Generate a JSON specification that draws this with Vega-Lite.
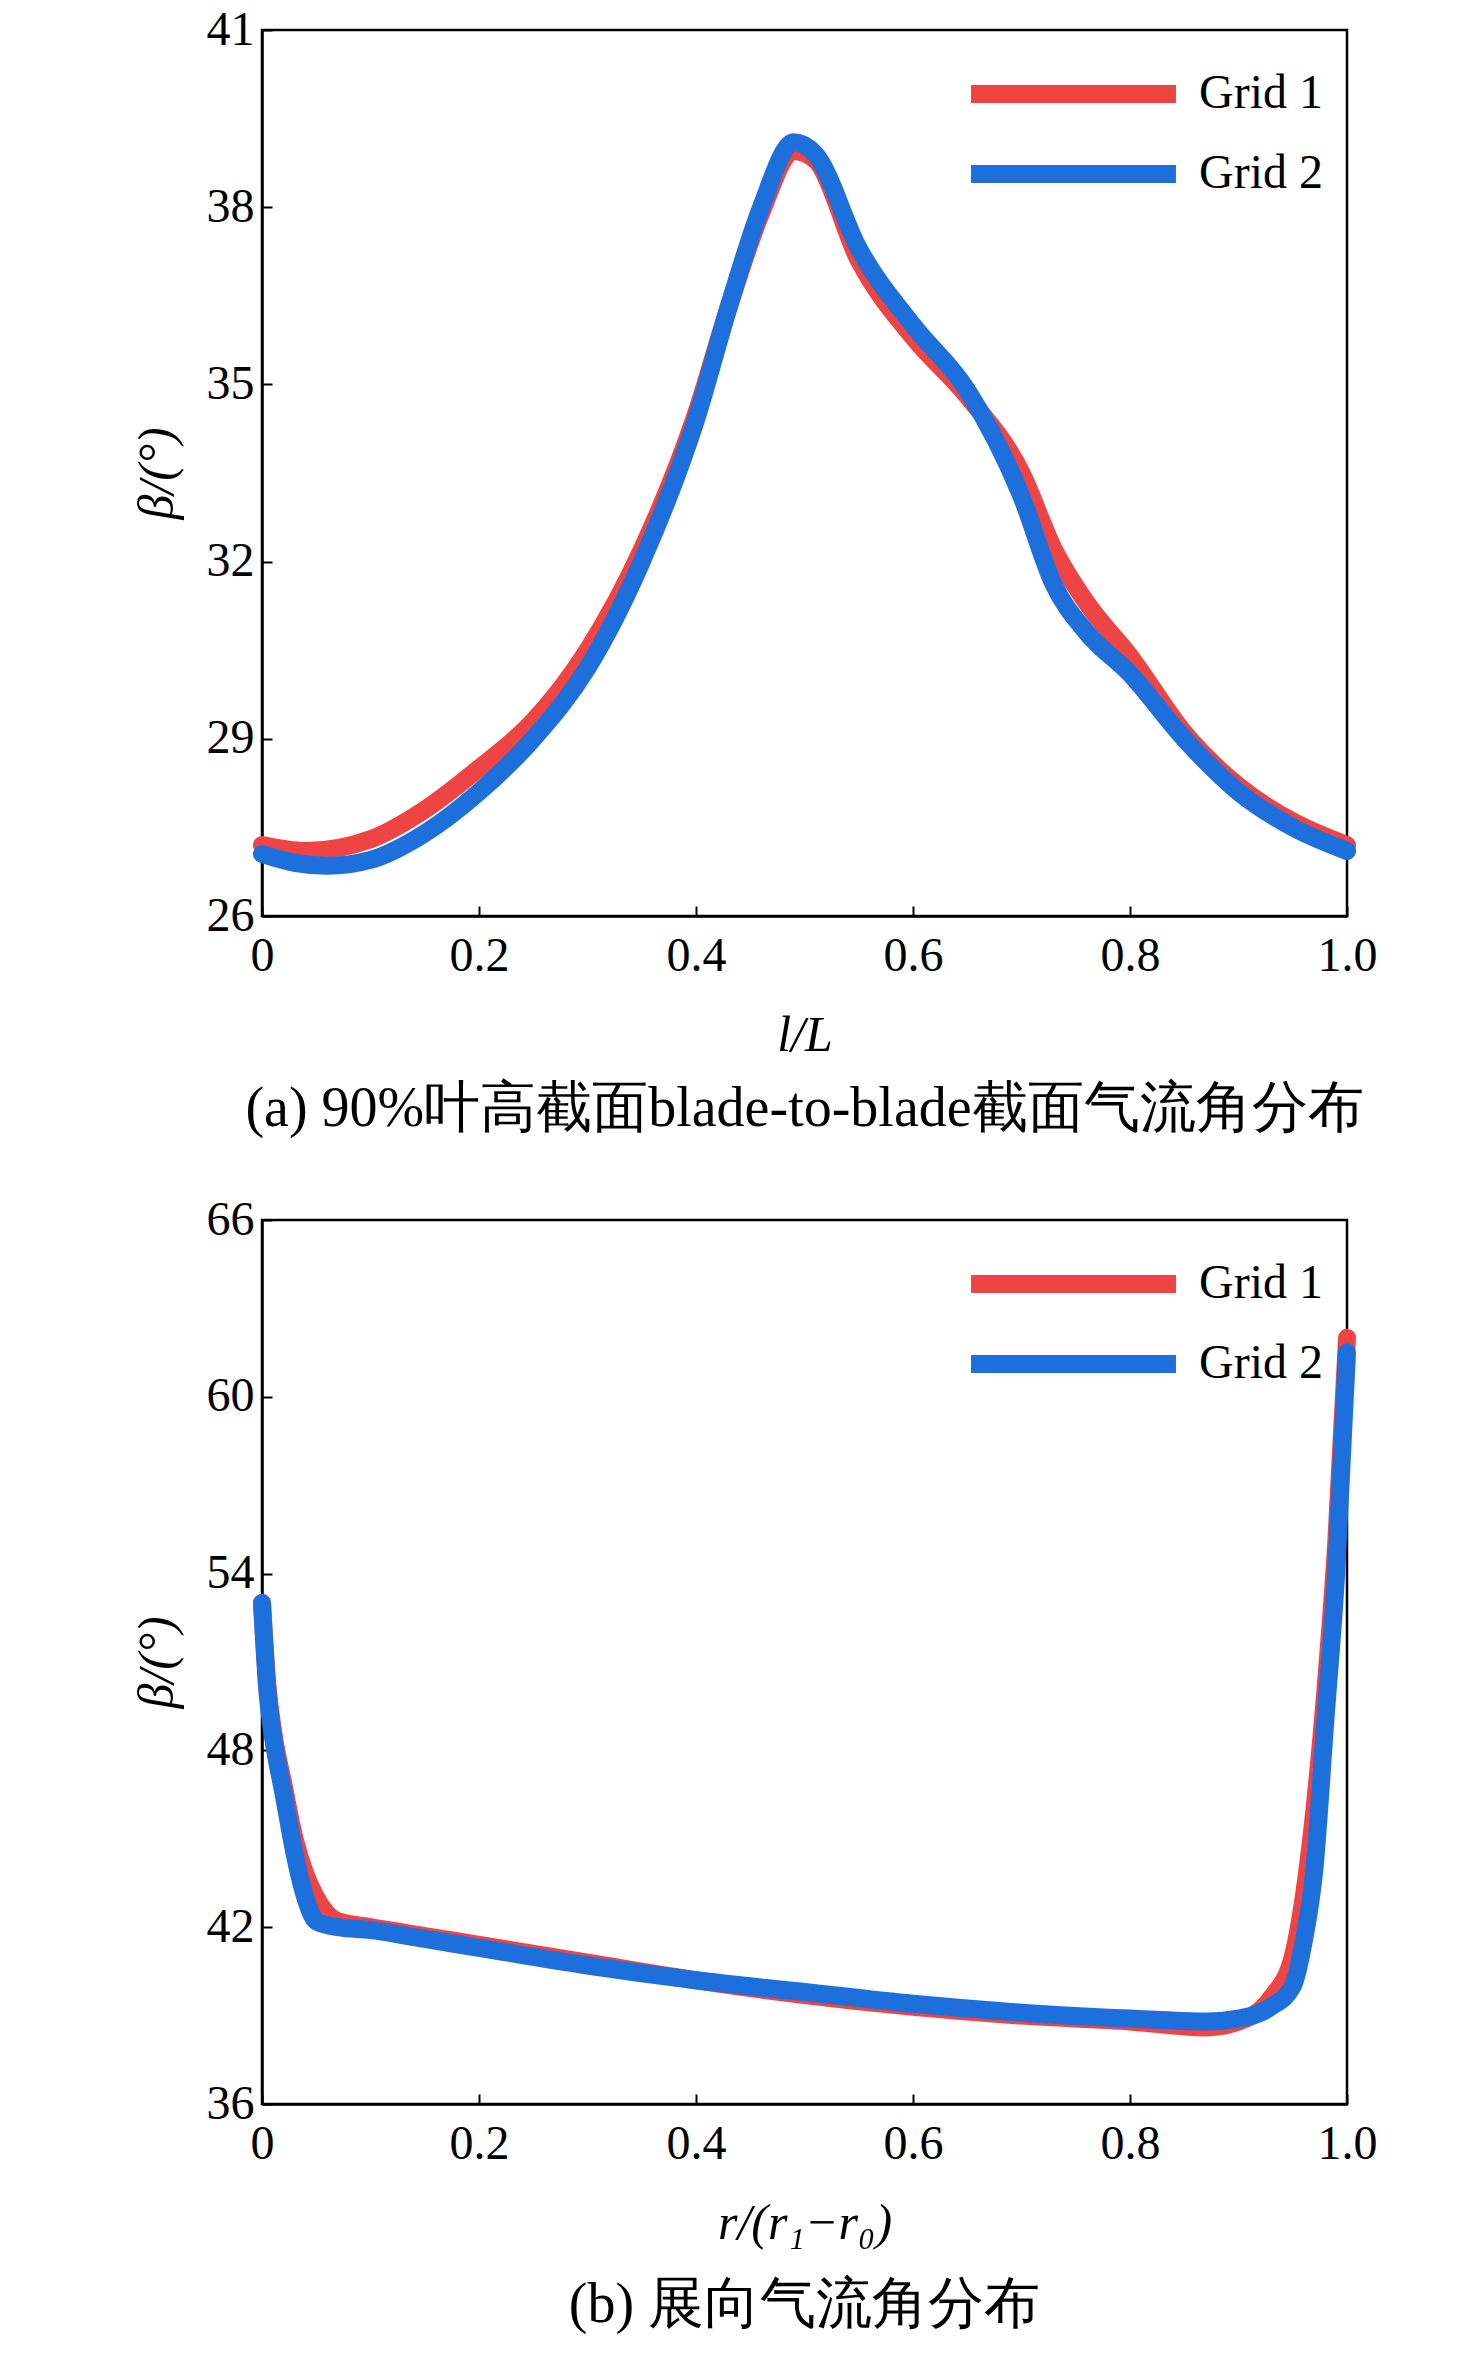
{
"$schema":"https://vega.github.io/schema/vega-lite/v6.json",
"background":"white",
"padding":{"left":130,"top":4,"right":30,"bottom":5},
"config":{"font":"Liberation Serif","view":{"stroke":"black","strokeWidth":2.5},
"axis":{"labelColor":"black","titleColor":"black","domainColor":"black","tickColor":"black","grid":false,"tickSize":-10,"tickWidth":2,"labelPadding":18,"domainWidth":2.5,"labelFlush":false},
"legend":{"labelColor":"black"}},
"datasets":{
"a":[
{"x":0,"y":27.2,"g":"Grid 1"},{"x":0.04,"y":27.1,"g":"Grid 1"},{"x":0.1,"y":27.3,"g":"Grid 1"},{"x":0.15,"y":27.8,"g":"Grid 1"},{"x":0.2,"y":28.5,"g":"Grid 1"},{"x":0.25,"y":29.3,"g":"Grid 1"},{"x":0.3,"y":30.5,"g":"Grid 1"},{"x":0.35,"y":32.2,"g":"Grid 1"},{"x":0.4,"y":34.5,"g":"Grid 1"},{"x":0.43,"y":36.3,"g":"Grid 1"},{"x":0.46,"y":37.9,"g":"Grid 1"},{"x":0.49,"y":38.95,"g":"Grid 1"},{"x":0.51,"y":38.8,"g":"Grid 1"},{"x":0.55,"y":37.1,"g":"Grid 1"},{"x":0.6,"y":35.8,"g":"Grid 1"},{"x":0.65,"y":34.8,"g":"Grid 1"},{"x":0.7,"y":33.5,"g":"Grid 1"},{"x":0.73,"y":32.2,"g":"Grid 1"},{"x":0.76,"y":31.3,"g":"Grid 1"},{"x":0.8,"y":30.4,"g":"Grid 1"},{"x":0.85,"y":29.1,"g":"Grid 1"},{"x":0.9,"y":28.2,"g":"Grid 1"},{"x":0.95,"y":27.6,"g":"Grid 1"},{"x":1.0,"y":27.2,"g":"Grid 1"},
{"x":0,"y":27.05,"g":"Grid 2"},{"x":0.03,"y":26.9,"g":"Grid 2"},{"x":0.06,"y":26.85,"g":"Grid 2"},{"x":0.1,"y":26.95,"g":"Grid 2"},{"x":0.15,"y":27.4,"g":"Grid 2"},{"x":0.2,"y":28.1,"g":"Grid 2"},{"x":0.25,"y":29.0,"g":"Grid 2"},{"x":0.3,"y":30.2,"g":"Grid 2"},{"x":0.35,"y":32.0,"g":"Grid 2"},{"x":0.4,"y":34.4,"g":"Grid 2"},{"x":0.43,"y":36.3,"g":"Grid 2"},{"x":0.46,"y":38.0,"g":"Grid 2"},{"x":0.49,"y":39.1,"g":"Grid 2"},{"x":0.51,"y":38.9,"g":"Grid 2"},{"x":0.55,"y":37.3,"g":"Grid 2"},{"x":0.6,"y":36.0,"g":"Grid 2"},{"x":0.65,"y":34.9,"g":"Grid 2"},{"x":0.7,"y":33.1,"g":"Grid 2"},{"x":0.73,"y":31.6,"g":"Grid 2"},{"x":0.76,"y":30.8,"g":"Grid 2"},{"x":0.8,"y":30.1,"g":"Grid 2"},{"x":0.85,"y":29.0,"g":"Grid 2"},{"x":0.9,"y":28.1,"g":"Grid 2"},{"x":0.95,"y":27.5,"g":"Grid 2"},{"x":1.0,"y":27.1,"g":"Grid 2"}],
"b":[
{"x":0,"y":53,"g":"Grid 1"},{"x":0.005,"y":50.2,"g":"Grid 1"},{"x":0.01,"y":48.7,"g":"Grid 1"},{"x":0.02,"y":46.8,"g":"Grid 1"},{"x":0.03,"y":45,"g":"Grid 1"},{"x":0.04,"y":43.8,"g":"Grid 1"},{"x":0.05,"y":43.0,"g":"Grid 1"},{"x":0.07,"y":42.2,"g":"Grid 1"},{"x":0.1,"y":42.0,"g":"Grid 1"},{"x":0.15,"y":41.7,"g":"Grid 1"},{"x":0.2,"y":41.4,"g":"Grid 1"},{"x":0.3,"y":40.8,"g":"Grid 1"},{"x":0.4,"y":40.2,"g":"Grid 1"},{"x":0.5,"y":39.7,"g":"Grid 1"},{"x":0.6,"y":39.3,"g":"Grid 1"},{"x":0.7,"y":39.0,"g":"Grid 1"},{"x":0.8,"y":38.8,"g":"Grid 1"},{"x":0.87,"y":38.6,"g":"Grid 1"},{"x":0.9,"y":38.8,"g":"Grid 1"},{"x":0.93,"y":39.6,"g":"Grid 1"},{"x":0.95,"y":41,"g":"Grid 1"},{"x":0.96,"y":43,"g":"Grid 1"},{"x":0.97,"y":46,"g":"Grid 1"},{"x":0.98,"y":50,"g":"Grid 1"},{"x":0.99,"y":55,"g":"Grid 1"},{"x":1.0,"y":62,"g":"Grid 1"},
{"x":0,"y":53,"g":"Grid 2"},{"x":0.005,"y":50,"g":"Grid 2"},{"x":0.01,"y":48.5,"g":"Grid 2"},{"x":0.02,"y":46.5,"g":"Grid 2"},{"x":0.03,"y":44.5,"g":"Grid 2"},{"x":0.04,"y":43,"g":"Grid 2"},{"x":0.05,"y":42.2,"g":"Grid 2"},{"x":0.07,"y":42.0,"g":"Grid 2"},{"x":0.1,"y":41.9,"g":"Grid 2"},{"x":0.15,"y":41.6,"g":"Grid 2"},{"x":0.2,"y":41.3,"g":"Grid 2"},{"x":0.3,"y":40.7,"g":"Grid 2"},{"x":0.4,"y":40.2,"g":"Grid 2"},{"x":0.5,"y":39.8,"g":"Grid 2"},{"x":0.6,"y":39.4,"g":"Grid 2"},{"x":0.7,"y":39.1,"g":"Grid 2"},{"x":0.8,"y":38.9,"g":"Grid 2"},{"x":0.87,"y":38.8,"g":"Grid 2"},{"x":0.9,"y":38.9,"g":"Grid 2"},{"x":0.93,"y":39.3,"g":"Grid 2"},{"x":0.95,"y":40,"g":"Grid 2"},{"x":0.96,"y":41.5,"g":"Grid 2"},{"x":0.97,"y":44,"g":"Grid 2"},{"x":0.98,"y":49,"g":"Grid 2"},{"x":0.99,"y":54,"g":"Grid 2"},{"x":1.0,"y":61.5,"g":"Grid 2"}]},
"vconcat":[
{"width":1085,"height":886,"data":{"name":"a"},
"title":{"text":"(a) 90%叶高截面blade-to-blade截面气流角分布","orient":"bottom","offset":22,"anchor":"middle","font":"Liberation Serif","fontSize":56,"fontWeight":"normal","color":"black"},
"mark":{"type":"line","strokeWidth":18,"strokeCap":"round","strokeJoin":"round","interpolate":"monotone"},
"encoding":{
"x":{"field":"x","type":"quantitative","scale":{"domain":[0,1],"nice":false},"axis":{"values":[0,0.2,0.4,0.6,0.8,1.0],"labelExpr":"datum.value==0?'0':format(datum.value,'.1f')","title":"l/L","titleFontStyle":"italic","titleFontWeight":"normal","titlePadding":30,"labelPadding":26,"labelFlush":false,"labelFont":"Liberation Serif","titleFont":"Liberation Serif","labelFontSize":48,"titleFontSize":50}},
"y":{"field":"y","type":"quantitative","scale":{"domain":[26,41],"nice":false,"zero":false},"axis":{"values":[26,29,32,35,38,41],"title":"β/(°)","titleFontStyle":"italic","titleFontWeight":"normal","titlePadding":24,"labelFlush":false,"labelFont":"Liberation Serif","titleFont":"Liberation Serif","labelFontSize":48,"titleFontSize":50}},
"color":{"field":"g","type":"nominal","scale":{"domain":["Grid 1","Grid 2"],"range":["#ef4444","#1d6fdc"]},"legend":{"title":null,"orient":"top-right","symbolType":"stroke","symbolSize":42000,"symbolStrokeWidth":18,"symbolStrokeCap":"round","clipHeight":80,"rowPadding":0,"offset":24,"padding":0,"labelOffset":14,"labelFont":"Liberation Serif","labelFontSize":48}}}},
{"width":1085,"height":884,"data":{"name":"b"},
"title":{"text":"(b) 展向气流角分布","orient":"bottom","offset":30,"anchor":"middle","font":"Liberation Serif","fontSize":56,"fontWeight":"normal","color":"black"},
"mark":{"type":"line","strokeWidth":18,"strokeCap":"round","strokeJoin":"round","interpolate":"monotone"},
"encoding":{
"x":{"field":"x","type":"quantitative","scale":{"domain":[0,1],"nice":false},"axis":{"values":[0,0.2,0.4,0.6,0.8,1.0],"labelExpr":"datum.value==0?'0':format(datum.value,'.1f')","title":"r/(r₁−r₀)","titleFontStyle":"italic","titleFontWeight":"normal","titlePadding":30,"labelPadding":26,"labelFlush":false,"labelFont":"Liberation Serif","titleFont":"Liberation Serif","labelFontSize":48,"titleFontSize":50}},
"y":{"field":"y","type":"quantitative","scale":{"domain":[36,66],"nice":false,"zero":false},"axis":{"values":[36,42,48,54,60,66],"title":"β/(°)","titleFontStyle":"italic","titleFontWeight":"normal","titlePadding":24,"labelFlush":false,"labelFont":"Liberation Serif","titleFont":"Liberation Serif","labelFontSize":48,"titleFontSize":50}},
"color":{"field":"g","type":"nominal","scale":{"domain":["Grid 1","Grid 2"],"range":["#ef4444","#1d6fdc"]},"legend":{"title":null,"orient":"top-right","symbolType":"stroke","symbolSize":42000,"symbolStrokeWidth":18,"symbolStrokeCap":"round","clipHeight":80,"rowPadding":0,"offset":24,"padding":0,"labelOffset":14,"labelFont":"Liberation Serif","labelFontSize":48}}}}],
"spacing":55,
"resolve":{"legend":{"color":"independent"}}
}
